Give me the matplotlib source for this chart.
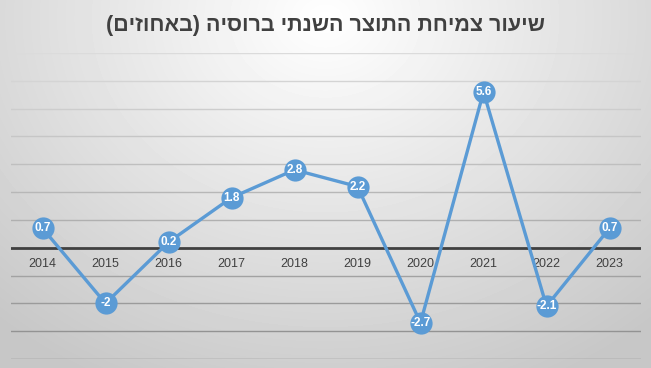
import numpy as np
import matplotlib.pyplot as plt

years = ['2014', '2015', '2016', '2017', '2018', '2019', '2020', '2021', '2022', '2023']
growth = [0.7, -2, 0.2, 1.8, 2.8, 2.2, -2.7, 5.6, -2.1, 0.7]
title = 'שיעור צמיחת התוצר השנתי ברוסיה (באחוזים)'


def rtl(s):
    # matplotlib has no bidi support, so flip the string by hand
    return s[::-1].translate(str.maketrans('()', ')('))


def main():
    fig = plt.figure(figsize=(6.51, 3.68), dpi=100)

    # radial grey background
    bg = fig.add_axes([0, 0, 1, 1], zorder=0)
    yy, xx = np.mgrid[0:1:368j, 0:1:651j]
    r = np.sqrt(((xx - 0.5) / 0.75) ** 2 + ((yy - 0.05) / 1.1) ** 2)
    bg.imshow(1 - 0.22 * np.clip(r, 0, 1), cmap='gray', vmin=0, vmax=1,
              aspect='auto', extent=[0, 1, 0, 1])
    bg.axis('off')

    ax = fig.add_axes([11 / 651, 9 / 368, 630 / 651, 306 / 368], zorder=1)
    ax.set_facecolor('none')
    x = np.arange(len(years))
    ax.set_xlim(-0.5, len(years) - 0.5)
    ax.set_ylim(-4, 7)
    for v in range(-4, 8):
        if v == 0:
            continue
        g = 0.55 + (v + 4) / 11 * 0.31  # grid gets lighter towards the top
        ax.axhline(v, color=str(g), lw=1, zorder=1)
    ax.axhline(0, color='#404040', lw=2, zorder=2)

    ax.plot(x, growth, color='#5b9bd5', lw=2.4, marker='o', markersize=16,
            markeredgewidth=0, zorder=3)
    for xi, v in zip(x, growth):
        ax.text(xi, v, f'{v:g}', color='white', fontsize=8.5, fontweight='bold',
                ha='center', va='center', zorder=4, family='Liberation Sans')
    for xi, yr in zip(x, years):
        ax.annotate(yr, (xi, 0), xytext=(0, -11.5), textcoords='offset points',
                    ha='center', va='center', fontsize=9, color='#404040',
                    family='Liberation Sans', zorder=2)
    for s in ax.spines.values():
        s.set_visible(False)
    ax.set_xticks([])
    ax.set_yticks([])

    fig.text(0.5, 1 - 25 / 368, rtl(title), ha='center', va='center', fontsize=15.5,
             fontweight='bold', color='#404040', family='Liberation Sans')
    fig.savefig('out.png', dpi=100)


if __name__ == '__main__':
    main()
